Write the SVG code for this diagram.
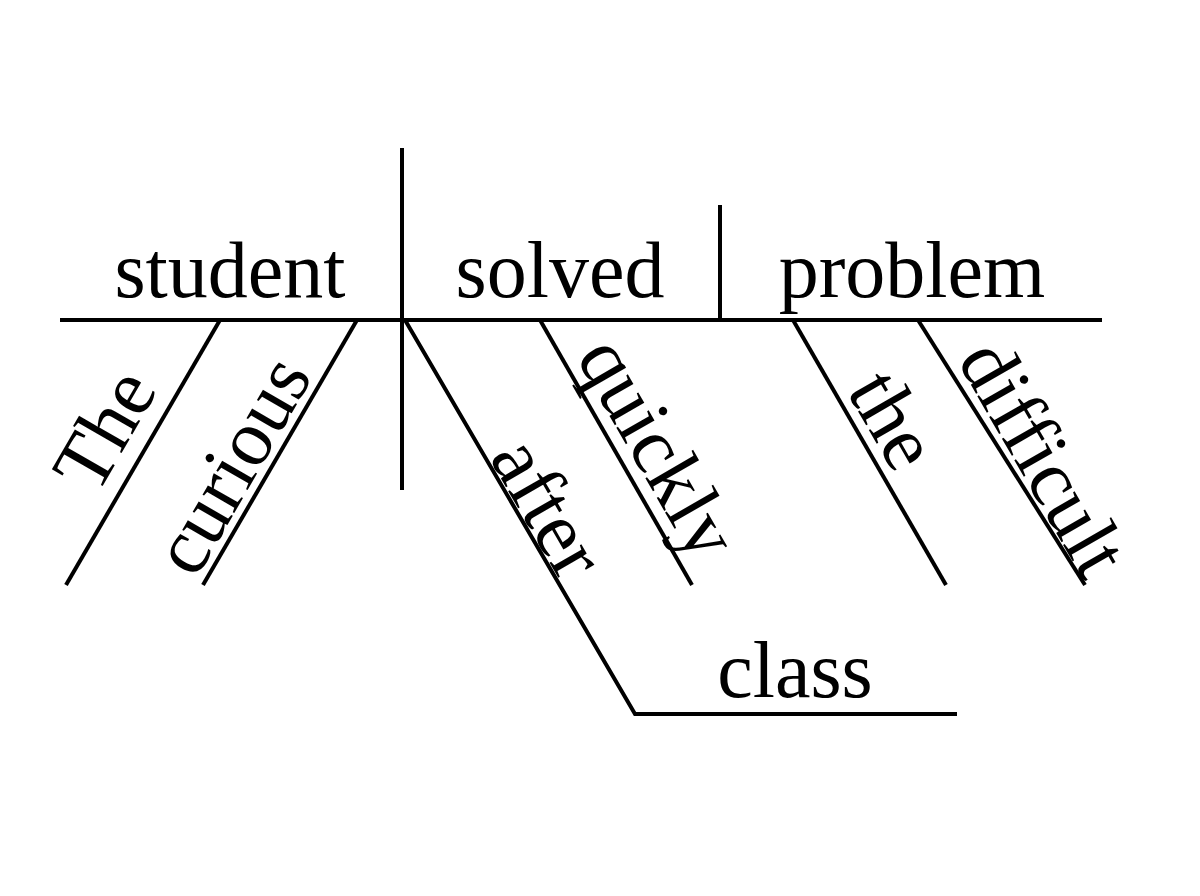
<svg xmlns="http://www.w3.org/2000/svg" width="1200" height="896" viewBox="0 0 1200 896">
<style>
line,polyline{stroke:#000;stroke-width:4;fill:none}
text{font-family:"Liberation Serif","Times New Roman",serif;font-size:80px;fill:#000;text-anchor:middle}
</style>
<rect width="1200" height="896" fill="#fff"/>
<g id="connectors">
<line x1="60" y1="320" x2="1102" y2="320"/>
<line x1="402" y1="148" x2="402" y2="490"/>
<line x1="720" y1="205" x2="720" y2="320"/>
<line x1="220" y1="320" x2="66" y2="585"/>
<line x1="357" y1="320" x2="203" y2="585"/>
<polyline points="405,320 635,714 957,714"/>
<line x1="540" y1="320" x2="692" y2="585"/>
<line x1="793" y1="320" x2="946" y2="585"/>
<line x1="918" y1="320" x2="1085" y2="585"/>
</g>
<g id="student"><text x="230" y="297">student</text></g>
<g id="solved"><text x="560" y="297">solved</text></g>
<g id="problem"><text x="912" y="297">problem</text></g>
<g id="class"><text x="795" y="697">class</text></g>
<g id="The"><text transform="translate(105,430) rotate(-60)" y="26">The</text></g>
<g id="curious"><text transform="translate(232,465) rotate(-60)" y="26">curious</text></g>
<g id="after"><text transform="translate(548,508) rotate(60)" y="26">after</text></g>
<g id="quickly"><text transform="translate(658,448) rotate(60)" y="26">quickly</text></g>
<g id="the"><text transform="translate(893,420) rotate(60)" y="26">the</text></g>
<g id="difficult"><text transform="translate(1043,458) rotate(60)" y="26">difficult</text></g>
</svg>
